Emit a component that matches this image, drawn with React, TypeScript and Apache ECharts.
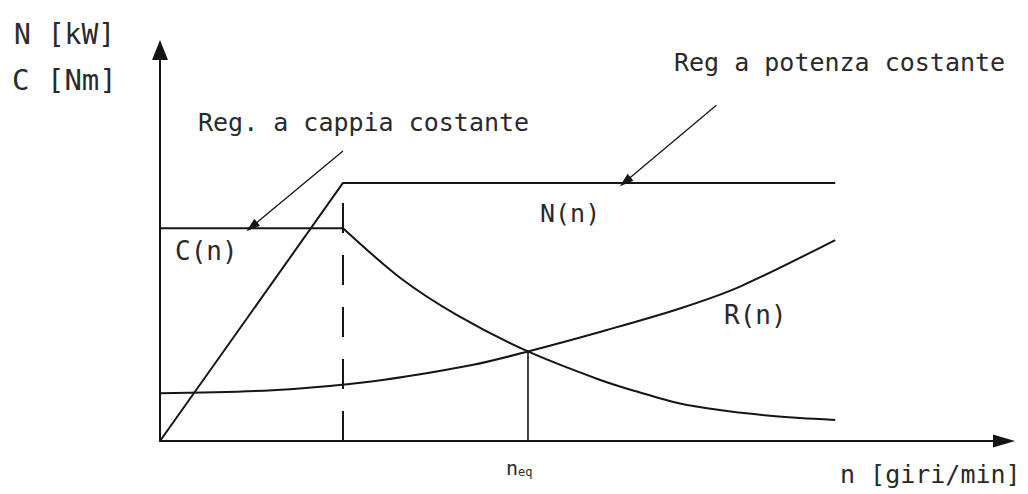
import React, { useEffect, useRef } from 'react';
import * as echarts from 'echarts';

// Speed values (n) and chart quantities
const nBase = 2.71;
const nEq = 5.45;
const xMax = 12.5;
const yMax = 10;

const powerN: [number, number][] = [[0, 0], [2.71, 6.6], [10, 6.6]];
const torqueFlat: [number, number][] = [[0, 5.44], [2.71, 5.44]];
const torqueFall: [number, number][] = [
  [2.71, 5.44], [3.56, 4.17], [4.4, 3.22], [5.45, 2.29], [6.52, 1.56],
  [7.11, 1.24], [7.7, 0.96], [8.29, 0.79], [8.89, 0.67], [9.48, 0.59], [10, 0.54],
];
const resistance: [number, number][] = [
  [0, 1.22], [1.67, 1.3], [3.16, 1.53], [4.64, 1.95], [5.45, 2.29],
  [6.62, 2.84], [7.7, 3.39], [8.59, 3.95], [10, 5.14],
];
const baseLine: [number, number][] = [[nBase, 0], [nBase, 6.6]];
const eqLine: [number, number][] = [[nEq, 0], [nEq, 2.29]];
const arrowTorque: [number, number][] = [[2.71, 7.42], [1.36, 5.48]];
const arrowPower: [number, number][] = [[8.24, 8.59], [6.89, 6.63]];

const INK = '#151515';
const TEXT_INK = '#2a2a2a';
const FONT = '"DejaVu Sans Mono", monospace';

export default function App() {
  const ref = useRef<HTMLDivElement>(null);
  useEffect(() => {
    if (!ref.current) return;
    const chart = echarts.init(ref.current, null, { renderer: 'svg' });
    const lineS = (data: [number, number][], smooth: number | boolean, extra: any = {}) => ({
      type: 'line',
      data,
      smooth,
      symbol: 'none',
      silent: true,
      lineStyle: { color: INK, width: 2, ...(extra.lineStyle || {}) },
      z: 3,
    });
    const arrowS = (pts: [number, number][]) => ({
      type: 'line',
      data: [],
      silent: true,
      markLine: {
        silent: true,
        symbol: ['none', 'triangle'],
        symbolSize: [9, 14],
        label: { show: false },
        lineStyle: { color: INK, width: 1.3, type: 'solid' },
        data: [[{ coord: pts[0] }, { coord: pts[1] }]],
      },
    });
    const txt = (text: string, x: number, y: number, size: number) => ({
      type: 'text',
      x,
      y,
      style: { text, fill: TEXT_INK, fontFamily: FONT, fontSize: size, align: 'left', verticalAlign: 'middle' },
    });
    chart.setOption({
      animation: false,
      backgroundColor: '#ffffff',
      grid: { left: 160, right: 24, top: 50, bottom: 53 },
      xAxis: {
        type: 'value', min: 0, max: xMax,
        axisLine: { show: true, lineStyle: { color: INK, width: 2 }, symbol: ['none', 'triangle'], symbolSize: [13, 22] },
        axisTick: { show: false }, axisLabel: { show: false }, splitLine: { show: false },
      },
      yAxis: {
        type: 'value', min: 0, max: yMax,
        axisLine: { show: true, lineStyle: { color: INK, width: 2 }, symbol: ['none', 'triangle'], symbolSize: [16, 20] },
        axisTick: { show: false }, axisLabel: { show: false }, splitLine: { show: false },
      },
      series: [
        lineS(powerN, false),
        lineS(torqueFlat, false),
        lineS(torqueFall, 0.3),
        lineS(resistance, 0.3),
        lineS(baseLine, false, { lineStyle: { type: [30, 22] } }),
        lineS(eqLine, false, { lineStyle: { width: 1.6 } }),
        arrowS(arrowTorque),
        arrowS(arrowPower),
      ],
      graphic: [
        txt('N [kW]', 14, 34, 28),
        txt('C [Nm]', 12, 80, 29),
        txt('Reg a potenza costante', 674, 62, 25),
        txt('Reg. a cappia costante', 198, 122, 25),
        txt('C(n)', 175, 251, 26),
        txt('N(n)', 540, 213, 25),
        txt('R(n)', 724, 315, 26),
        txt('n [giri/min]', 840, 474, 25),
        {
          type: 'text',
          x: 506,
          y: 468,
          style: {
            text: '{a|n}{b|eq}',
            fill: TEXT_INK,
            fontFamily: FONT,
            align: 'left',
            verticalAlign: 'middle',
            rich: {
              a: { fontSize: 20, fontFamily: FONT, fill: TEXT_INK, verticalAlign: 'bottom' },
              b: { fontSize: 12, fontFamily: FONT, fill: TEXT_INK, verticalAlign: 'bottom' },
            },
          },
        },
      ],
    });
    return () => chart.dispose();
  }, []);
  return <div ref={ref} style={{ width: 1028, height: 494, position: 'absolute', left: 0, top: 0 }} />;
}
